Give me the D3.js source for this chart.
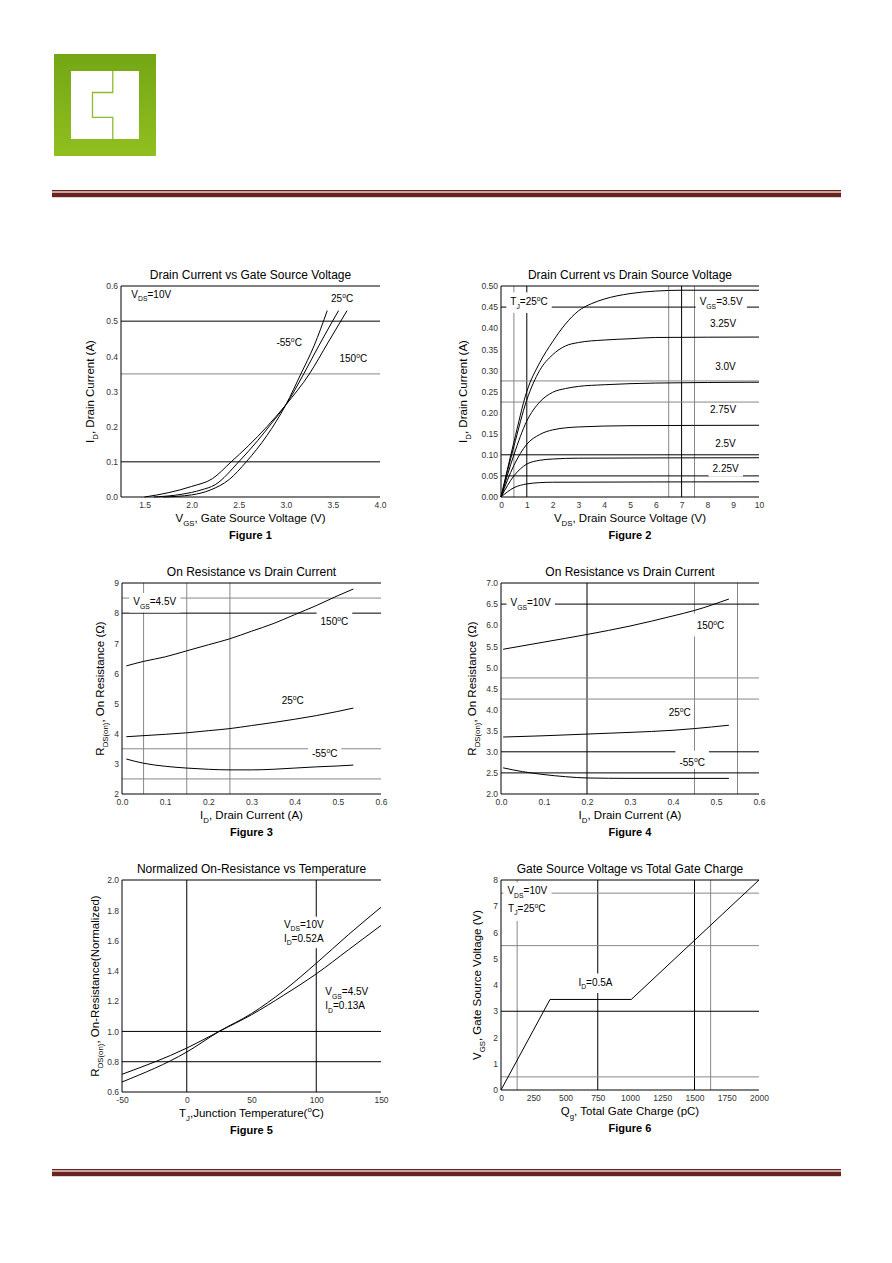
<!DOCTYPE html>
<html>
<head>
<meta charset="utf-8">
<script src="https://cdn.jsdelivr.net/npm/d3@7"></script>
<style>
  body { margin: 0; background: #fff; }
  svg { display: block; }
  text { font-family: "Liberation Sans", Arial, sans-serif; }
</style>
</head>
<body>
<svg id="page"></svg>
<script>
// ---- Figure 1 : Id vs Vgs (Vds=10V) ----
var fig1_150C = [[1.5,0],[1.75,0.012],[2.0,0.03],[2.22,0.052],[2.42,0.1],[2.6,0.145],[2.8,0.2],[3.0,0.262],[3.25,0.35],[3.45,0.44],[3.65,0.53]];
var fig1_25C  = [[1.6,0],[1.9,0.008],[2.1,0.02],[2.25,0.035],[2.5,0.1],[2.7,0.16],[2.85,0.21],[3.0,0.262],[3.19,0.35],[3.35,0.43],[3.56,0.53]];
var fig1_m55C = [[1.7,0],[2.0,0.006],[2.2,0.02],[2.4,0.05],[2.58,0.1],[2.8,0.175],[3.0,0.262],[3.16,0.35],[3.3,0.43],[3.44,0.53]];
var fig1XTicks = [1.5, 2.0, 2.5, 3.0, 3.5, 4.0];
var fig1YTicks = [0, 0.1, 0.2, 0.3, 0.4, 0.5, 0.6];

// ---- Figure 2 : Id vs Vds (Tj=25C) ----
var fig2_35V  = [[0,0],[0.5,0.13],[1,0.25],[1.5,0.318],[2,0.368],[2.5,0.41],[3,0.441],[3.5,0.458],[4,0.469],[5,0.482],[6,0.488],[7,0.49],[10,0.49]];
var fig2_325V = [[0,0],[0.5,0.12],[1,0.23],[1.5,0.3],[2,0.337],[2.5,0.358],[3,0.366],[4,0.372],[5,0.375],[6,0.378],[10,0.379]];
var fig2_30V  = [[0,0],[0.5,0.1],[1,0.18],[1.5,0.225],[2,0.248],[2.5,0.257],[3,0.262],[4,0.266],[6,0.27],[10,0.272]];
var fig2_275V = [[0,0],[0.5,0.075],[1,0.125],[1.5,0.148],[2,0.159],[3,0.166],[5,0.169],[10,0.17]];
var fig2_25V  = [[0,0],[0.5,0.05],[1,0.078],[1.5,0.087],[2,0.09],[3,0.092],[10,0.093]];
var fig2_225V = [[0,0],[0.5,0.022],[1,0.031],[1.5,0.034],[2,0.035],[10,0.036]];
var fig2XTicks = [0,1,2,3,4,5,6,7,8,9,10];
var fig2YTicks = [0,0.05,0.1,0.15,0.2,0.25,0.3,0.35,0.4,0.45,0.5];

// ---- Figure 3 : Rds(on) vs Id (Vgs=4.5V) ----
var fig3_150C = [[0.01,6.25],[0.05,6.4],[0.1,6.55],[0.15,6.75],[0.2,6.95],[0.25,7.15],[0.3,7.4],[0.35,7.65],[0.4,7.95],[0.45,8.25],[0.5,8.58],[0.536,8.8]];
var fig3_25C  = [[0.01,3.9],[0.1,3.98],[0.15,4.03],[0.2,4.1],[0.25,4.17],[0.3,4.27],[0.35,4.37],[0.4,4.48],[0.45,4.6],[0.5,4.74],[0.536,4.85]];
var fig3_m55C = [[0.01,3.16],[0.05,3.02],[0.1,2.92],[0.15,2.86],[0.2,2.82],[0.25,2.8],[0.3,2.8],[0.35,2.82],[0.4,2.86],[0.45,2.9],[0.5,2.93],[0.536,2.96]];
var fig3XTicks = [0,0.1,0.2,0.3,0.4,0.5,0.6];
var fig3YTicks = [2,3,4,5,6,7,8,9];

// ---- Figure 4 : Rds(on) vs Id (Vgs=10V) ----
var fig4_150C = [[0.005,5.43],[0.1,5.6],[0.2,5.78],[0.3,5.98],[0.4,6.22],[0.45,6.35],[0.53,6.62]];
var fig4_25C  = [[0.005,3.35],[0.1,3.38],[0.2,3.42],[0.3,3.46],[0.4,3.51],[0.45,3.55],[0.53,3.63]];
var fig4_m55C = [[0.005,2.62],[0.05,2.53],[0.1,2.46],[0.15,2.41],[0.2,2.38],[0.3,2.37],[0.53,2.37]];
var fig4XTicks = [0,0.1,0.2,0.3,0.4,0.5,0.6];
var fig4YTicks = [2,2.5,3,3.5,4,4.5,5,5.5,6,6.5,7];

// ---- Figure 5 : normalized Rds(on) vs Tj ----
var fig5_10V  = [[-50,0.666],[0,0.864],[25,1.0],[50,1.118],[75,1.27],[100,1.45],[125,1.64],[150,1.82]];
var fig5_45V  = [[-50,0.717],[0,0.89],[25,1.0],[50,1.11],[75,1.24],[100,1.38],[125,1.54],[150,1.7]];
var fig5XTicks = [-50,0,50,100,150];
var fig5YTicks = [0.6,0.8,1.0,1.2,1.4,1.6,1.8,2.0];

// ---- Figure 6 : Vgs vs Qg ----
var fig6_gate = [[0,0],[380,3.45],[1010,3.45],[2000,8.0]];
var fig6XTicks = [0,250,500,750,1000,1250,1500,1750,2000];
var fig6YTicks = [0,1,2,3,4,5,6,7,8];

var svg = d3.select("#page").attr("width", 892).attr("height", 1263);

// text with _{sub} and ^{sup} parts
function richText(t, str, fs) {
  var parts = str.split(/([_^]\{[^}]*\})/), shift = 0;
  parts.forEach(function(p) {
    if (!p) return;
    var m = p.match(/^([_^])\{([^}]*)\}$/);
    if (m) {
      var s = m[1] == "_" ? fs * 0.35 : -fs * 0.4;
      t.append("tspan").attr("dy", s - shift).attr("font-size", fs * 0.68).text(m[2]);
      shift = s;
    } else {
      t.append("tspan").attr("dy", -shift).text(p);
      shift = 0;
    }
  });
  return t;
}

// ---- header / footer ----
var defs = svg.append("defs");
var grad = defs.append("linearGradient").attr("id", "logoGrad")
  .attr("x1", 0).attr("y1", 0).attr("x2", 0).attr("y2", 1);
grad.append("stop").attr("offset", "0%").attr("stop-color", "#74a615");
grad.append("stop").attr("offset", "100%").attr("stop-color", "#91bf1f");

svg.append("rect").attr("x", 54).attr("y", 54).attr("width", 102).attr("height", 102).attr("fill", "url(#logoGrad)");
svg.append("rect").attr("x", 71).attr("y", 71).attr("width", 68).attr("height", 68).attr("fill", "#fff");
svg.append("path").attr("d", "M112.8,71 V92.5 H92.5 V117.3 H112.8 V139")
  .attr("fill", "none").attr("stroke", "#8dbd2a").attr("stroke-width", 1.3);

[190, 1169].forEach(function(yy) {
  svg.append("rect").attr("x", 52).attr("y", yy).attr("width", 789).attr("height", 1.4).attr("fill", "#6a2320");
  svg.append("rect").attr("x", 52).attr("y", yy + 2.6).attr("width", 789).attr("height", 4.6).attr("fill", "#6a2320");
});

// ---- one chart panel ----
function panel(o) {
  var x = d3.scaleLinear().domain(o.xDomain).range([o.left, o.left + o.width]);
  var y = d3.scaleLinear().domain(o.yDomain).range([o.top + o.height, o.top]);
  var g = svg.append("g");

  // grid lines
  (o.gridX || []).forEach(function(d) {
    g.append("line").attr("x1", x(d[0])).attr("x2", x(d[0]))
      .attr("y1", o.top).attr("y2", o.top + o.height)
      .attr("stroke", d[1]).attr("stroke-width", 1);
  });
  (o.gridY || []).forEach(function(d) {
    g.append("line").attr("y1", y(d[0])).attr("y2", y(d[0]))
      .attr("x1", o.left).attr("x2", o.left + o.width)
      .attr("stroke", d[1]).attr("stroke-width", 1);
  });

  // curves
  var line = d3.line()
    .x(function(d) { return x(d[0]); })
    .y(function(d) { return y(d[1]); })
    .curve(o.curve || d3.curveMonotoneX);
  o.series.forEach(function(s) {
    g.append("path").attr("d", line(s)).attr("fill", "none")
      .attr("stroke", "#000").attr("stroke-width", 1);
  });

  // frame (top, left, bottom)
  g.append("path")
    .attr("d", "M" + (o.left + o.width) + "," + o.top + "H" + o.left + "V" + (o.top + o.height) + "H" + (o.left + o.width))
    .attr("fill", "none").attr("stroke", "#000").attr("stroke-width", 1);

  // curve labels
  (o.labels || []).forEach(function(l) {
    var lg = g.append("g");
    l.lines.forEach(function(s, i) {
      var t = lg.append("text").attr("x", x(l.at[0])).attr("y", y(l.at[1]) + i * 14)
        .attr("font-size", 10).attr("fill", "#000");
      richText(t, s, 10);
    });
    if (l.box) {
      var bb = lg.node().getBBox();
      lg.insert("rect", ":first-child")
        .attr("x", bb.x - 4).attr("y", bb.y - (l.padTop || 2))
        .attr("width", bb.width + 8).attr("height", bb.height + (l.padTop || 2) + (l.padBot || 2))
        .attr("fill", "#fff");
    }
  });

  // axes
  function fmt(f) {
    var base = d3.format(f);
    return function(d) { return base(d).replace("\u2212", "-"); };
  }
  var xa = g.append("g").attr("transform", "translate(0," + (o.top + o.height) + ")")
    .call(d3.axisBottom(x).tickValues(o.xTicks).tickSize(0).tickPadding(5).tickFormat(fmt(o.xFmt)));
  var ya = g.append("g").attr("transform", "translate(" + o.left + ",0)")
    .call(d3.axisLeft(y).tickValues(o.yTicks).tickSize(0).tickPadding(3).tickFormat(fmt(o.yFmt)));
  [xa, ya].forEach(function(a) {
    a.select(".domain").remove();
    a.selectAll("text").attr("font-size", 8.5).attr("fill", "#333")
      .attr("font-family", "'Liberation Sans', Arial, sans-serif");
  });

  var cx = o.left + o.width / 2;
  g.append("text").attr("x", cx).attr("y", o.top - 7).attr("text-anchor", "middle")
    .attr("font-size", 12).text(o.title);
  richText(g.append("text").attr("x", cx).attr("y", o.top + o.height + 25)
    .attr("text-anchor", "middle").attr("font-size", 11.5), o.xLabel, 11.5);
  richText(g.append("text").attr("text-anchor", "middle").attr("font-size", 11.5)
    .attr("transform", "translate(" + (o.left - o.yLabelGap) + "," + (o.top + o.height / 2) + ") rotate(-90)"),
    o.yLabel, 11.5);
  g.append("text").attr("x", cx).attr("y", o.top + o.height + 42).attr("text-anchor", "middle")
    .attr("font-size", 11).attr("font-weight", "bold").text(o.figure);
}

var K = "#000", G = "#888";

panel({
  left: 121, top: 286, width: 259, height: 211,
  xDomain: [1.25, 4.0], yDomain: [0, 0.6],
  xTicks: fig1XTicks, yTicks: fig1YTicks, xFmt: ".1f", yFmt: ".1f",
  gridY: [[0.5, K], [0.35, G], [0.1, K]],
  series: [fig1_150C, fig1_25C, fig1_m55C],
  labels: [
    { at: [1.36, 0.567], lines: ["V_{DS}=10V"] },
    { at: [3.48, 0.555], lines: ["25^{o}C"] },
    { at: [2.9, 0.43], lines: ["-55^{o}C"] },
    { at: [3.57, 0.385], lines: ["150^{o}C"] }
  ],
  title: "Drain Current vs Gate Source Voltage",
  xLabel: "V_{GS}, Gate Source Voltage (V)",
  yLabel: "I_{D}, Drain Current (A)", yLabelGap: 27,
  figure: "Figure 1"
});

panel({
  left: 501, top: 286, width: 258, height: 211,
  xDomain: [0, 10], yDomain: [0, 0.5],
  xTicks: fig2XTicks, yTicks: fig2YTicks, xFmt: "d", yFmt: ".2f",
  gridX: [[0.5, G], [1, K], [6.5, G], [7, K], [7.5, G]],
  gridY: [[0.45, K], [0.275, G], [0.225, G], [0.1, K], [0.05, K]],
  series: [fig2_35V, fig2_325V, fig2_30V, fig2_275V, fig2_25V, fig2_225V],
  labels: [
    { at: [0.36, 0.454], lines: ["T_{J}=25^{o}C"], box: true, padTop: 3, padBot: 3 },
    { at: [7.7, 0.454], lines: ["V_{GS}=3.5V"], box: true, padTop: 3, padBot: 3 },
    { at: [8.1, 0.402], lines: ["3.25V"] },
    { at: [8.3, 0.3], lines: ["3.0V"] },
    { at: [8.1, 0.198], lines: ["2.75V"] },
    { at: [8.3, 0.118], lines: ["2.5V"] },
    { at: [8.2, 0.06], lines: ["2.25V"], box: true, padTop: 2, padBot: 3 }
  ],
  title: "Drain Current vs Drain Source Voltage",
  xLabel: "V_{DS}, Drain Source Voltage (V)",
  yLabel: "I_{D}, Drain Current (A)", yLabelGap: 34,
  figure: "Figure 2"
});

panel({
  left: 122, top: 583, width: 259, height: 211,
  xDomain: [0, 0.6], yDomain: [2, 9],
  xTicks: fig3XTicks, yTicks: fig3YTicks, xFmt: ".1f", yFmt: "d",
  gridX: [[0.05, G], [0.15, G], [0.25, G]],
  gridY: [[8.5, G], [8, K], [3.5, G], [2.5, G]],
  series: [fig3_150C, fig3_25C, fig3_m55C],
  labels: [
    { at: [0.026, 8.27], lines: ["V_{GS}=4.5V"], box: true, padTop: 3, padBot: 3 },
    { at: [0.46, 7.6], lines: ["150^{o}C"], box: true, padTop: 9, padBot: 1 },
    { at: [0.37, 4.97], lines: ["25^{o}C"] },
    { at: [0.44, 3.23], lines: ["-55^{o}C"], box: true, padTop: 4, padBot: 1 }
  ],
  title: "On Resistance vs Drain Current",
  xLabel: "I_{D}, Drain Current (A)",
  yLabel: "R_{DS(on)}, On Resistance (Ω)", yLabelGap: 18,
  figure: "Figure 3"
});

panel({
  left: 501, top: 583, width: 258, height: 211,
  xDomain: [0, 0.6], yDomain: [2, 7],
  xTicks: fig4XTicks, yTicks: fig4YTicks, xFmt: ".1f", yFmt: ".1f",
  gridX: [[0.2, K], [0.45, G], [0.55, G]],
  gridY: [[6.5, K], [4.75, G], [4.25, G], [3, K], [2.5, K]],
  series: [fig4_150C, fig4_25C, fig4_m55C],
  labels: [
    { at: [0.022, 6.45], lines: ["V_{GS}=10V"], box: true, padTop: 3, padBot: 3 },
    { at: [0.455, 5.9], lines: ["150^{o}C"], box: true, padTop: 6, padBot: 5 },
    { at: [0.39, 3.86], lines: ["25^{o}C"] },
    { at: [0.415, 2.67], lines: ["-55^{o}C"], box: true, padTop: 5, padBot: 1 }
  ],
  title: "On Resistance vs Drain Current",
  xLabel: "I_{D}, Drain Current (A)",
  yLabel: "R_{DS(on)}, On Resistance (Ω)", yLabelGap: 25,
  figure: "Figure 4"
});

panel({
  left: 122, top: 880, width: 259, height: 212,
  xDomain: [-50, 150], yDomain: [0.6, 2.0],
  xTicks: fig5XTicks, yTicks: fig5YTicks, xFmt: "d", yFmt: ".1f",
  gridX: [[0, K], [100, K]],
  gridY: [[1.0, K], [0.8, K]],
  series: [fig5_10V, fig5_45V],
  labels: [
    { at: [75, 1.685], lines: ["V_{DS}=10V", "I_{D}=0.52A"], box: true, padTop: 2, padBot: 2 },
    { at: [107, 1.24], lines: ["V_{GS}=4.5V", "I_{D}=0.13A"] }
  ],
  title: "Normalized On-Resistance vs Temperature",
  xLabel: "T_{J},Junction Temperature(^{o}C)",
  yLabel: "R_{DS(on)}, On-Resistance(Normalized)", yLabelGap: 23,
  figure: "Figure 5"
});

panel({
  left: 501, top: 880, width: 258, height: 210,
  xDomain: [0, 2000], yDomain: [0, 8],
  xTicks: fig6XTicks, yTicks: fig6YTicks, xFmt: "d", yFmt: "d",
  gridX: [[125, G], [750, K], [1500, K], [1625, G]],
  gridY: [[7.5, G], [5.5, G], [3, K], [0.5, G]],
  series: [fig6_gate],
  curve: d3.curveLinear,
  labels: [
    { at: [50, 7.45], lines: ["V_{DS}=10V"], box: true, padTop: 3, padBot: 3 },
    { at: [55, 6.8], lines: ["T_{J}=25^{o}C"], box: true, padTop: 2, padBot: 5 },
    { at: [600, 3.98], lines: ["I_{D}=0.5A"], box: true, padTop: 3, padBot: 3 }
  ],
  title: "Gate Source Voltage vs Total Gate Charge",
  xLabel: "Q_{g}, Total Gate Charge (pC)",
  yLabel: "V_{GS}, Gate Source Voltage (V)", yLabelGap: 20,
  figure: "Figure 6"
});
</script>
</body>
</html>
